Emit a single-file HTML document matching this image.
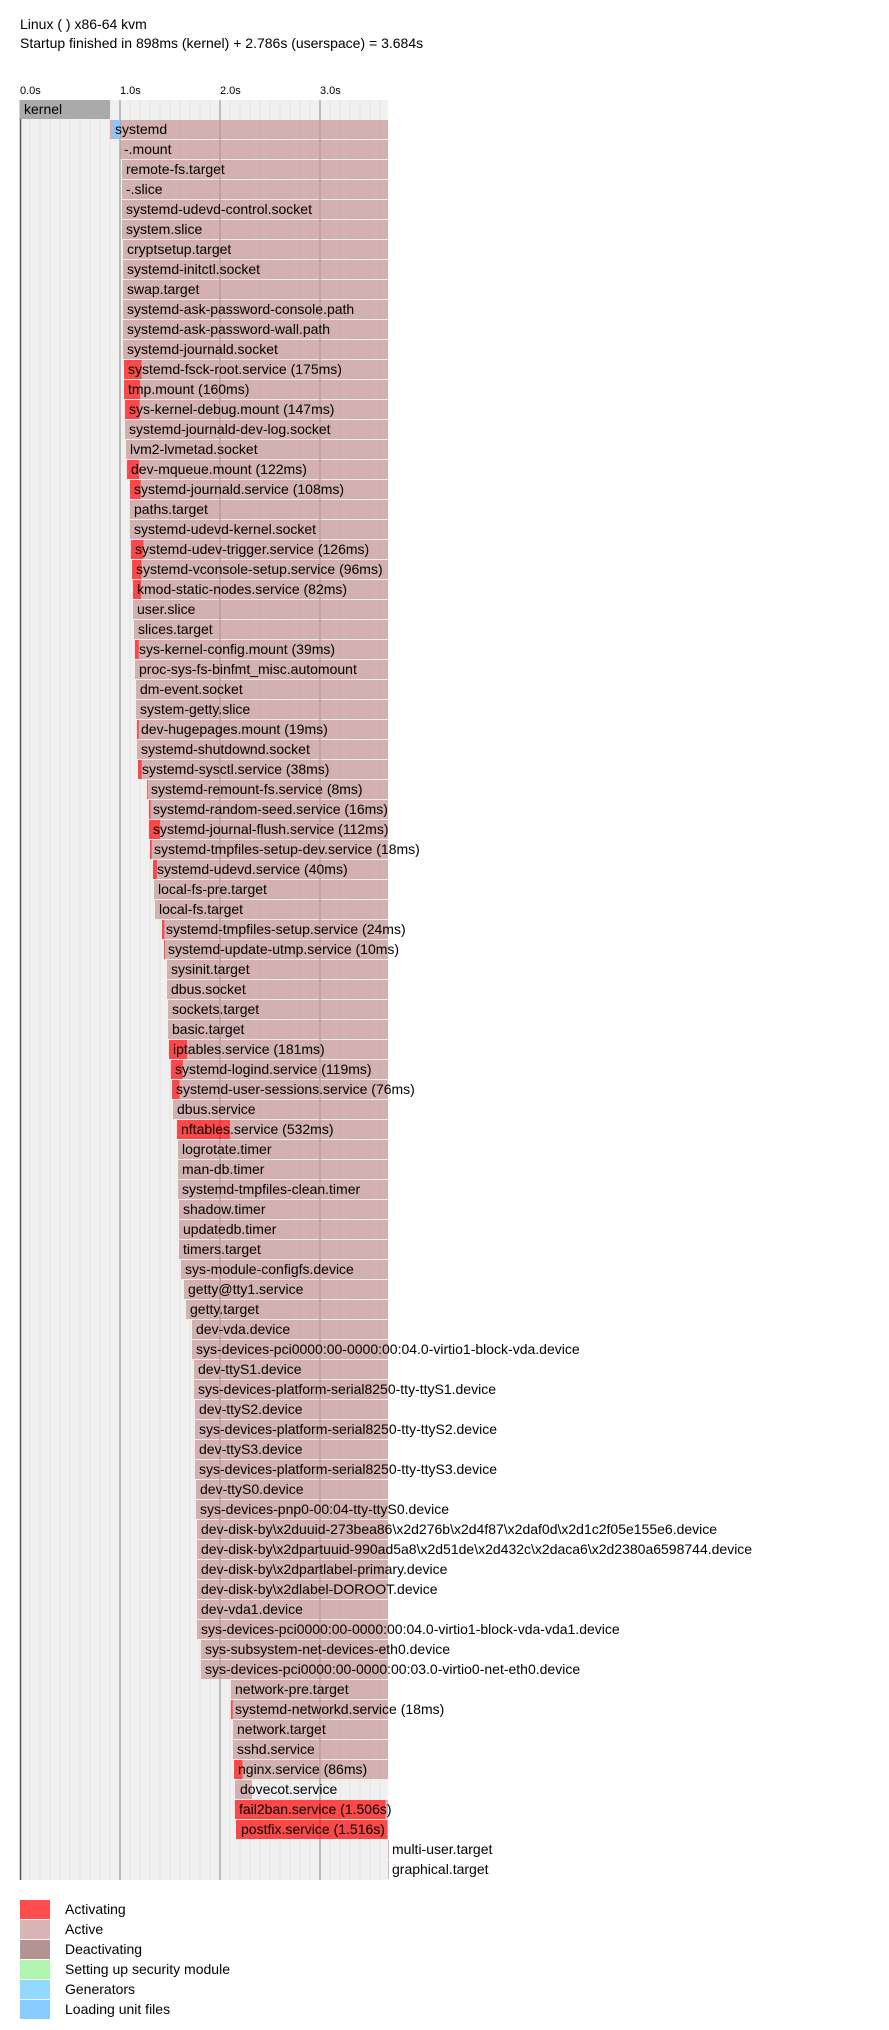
<!DOCTYPE html>
<html><head><meta charset="utf-8"><style>
html,body{margin:0;padding:0;background:#fff;}
svg{display:block;}
text{font-family:"Liberation Sans","DejaVu Sans",sans-serif;font-size:14px;fill:#000;}
.t{font-size:11px;}
.a{fill:rgb(200,150,150);fill-opacity:.7;}
.r{fill:rgb(255,0,0);fill-opacity:.7;}
.mi{stroke:#e3e3e3;stroke-width:1;}
.ma{stroke:#999;stroke-width:1.2;}
</style></head><body>
<svg width="889" height="2030" viewBox="0 0 889 2030" xmlns="http://www.w3.org/2000/svg">
<text x="20" y="29">Linux ( ) x86-64 kvm</text>
<text x="20" y="48">Startup finished in 898ms (kernel) + 2.786s (userspace) = 3.684s</text>
<text class="t" x="20" y="94">0.0s</text>
<text class="t" x="120" y="94">1.0s</text>
<text class="t" x="220" y="94">2.0s</text>
<text class="t" x="320" y="94">3.0s</text>
<rect x="20" y="100" width="368" height="1780" fill="#f0f0f0"/>
<g class="mi">
<line x1="30" y1="100" x2="30" y2="1880"/><line x1="40" y1="100" x2="40" y2="1880"/><line x1="50" y1="100" x2="50" y2="1880"/><line x1="60" y1="100" x2="60" y2="1880"/><line x1="70" y1="100" x2="70" y2="1880"/><line x1="80" y1="100" x2="80" y2="1880"/><line x1="90" y1="100" x2="90" y2="1880"/><line x1="100" y1="100" x2="100" y2="1880"/><line x1="110" y1="100" x2="110" y2="1880"/>
<line x1="130" y1="100" x2="130" y2="1880"/><line x1="140" y1="100" x2="140" y2="1880"/><line x1="150" y1="100" x2="150" y2="1880"/><line x1="160" y1="100" x2="160" y2="1880"/><line x1="170" y1="100" x2="170" y2="1880"/><line x1="180" y1="100" x2="180" y2="1880"/><line x1="190" y1="100" x2="190" y2="1880"/><line x1="200" y1="100" x2="200" y2="1880"/><line x1="210" y1="100" x2="210" y2="1880"/>
<line x1="230" y1="100" x2="230" y2="1880"/><line x1="240" y1="100" x2="240" y2="1880"/><line x1="250" y1="100" x2="250" y2="1880"/><line x1="260" y1="100" x2="260" y2="1880"/><line x1="270" y1="100" x2="270" y2="1880"/><line x1="280" y1="100" x2="280" y2="1880"/><line x1="290" y1="100" x2="290" y2="1880"/><line x1="300" y1="100" x2="300" y2="1880"/><line x1="310" y1="100" x2="310" y2="1880"/>
<line x1="330" y1="100" x2="330" y2="1880"/><line x1="340" y1="100" x2="340" y2="1880"/><line x1="350" y1="100" x2="350" y2="1880"/><line x1="360" y1="100" x2="360" y2="1880"/><line x1="370" y1="100" x2="370" y2="1880"/><line x1="380" y1="100" x2="380" y2="1880"/>
</g>
<g class="ma">
<line x1="120" y1="100" x2="120" y2="1880"/><line x1="220" y1="100" x2="220" y2="1880"/><line x1="320" y1="100" x2="320" y2="1880"/>
</g>
<line x1="20.5" y1="100" x2="20.5" y2="1880" stroke="#555" stroke-width="1.5"/>
<rect x="20" y="100" width="90" height="19" fill="#aaaaaa"/><text x="24" y="114">kernel</text>

<rect class="a" x="110" y="120" width="278" height="19"/><rect x="113" y="120" width="7" height="19" fill="#88c8ff"/><text x="115" y="134">systemd</text>
<rect class="a" x="120" y="140" width="268" height="19"/><text x="124" y="154">-.mount</text>
<rect class="a" x="122" y="160" width="266" height="19"/><text x="126" y="174">remote-fs.target</text>
<rect class="a" x="122" y="180" width="266" height="19"/><text x="126" y="194">-.slice</text>
<rect class="a" x="122" y="200" width="266" height="19"/><text x="126" y="214">systemd-udevd-control.socket</text>
<rect class="a" x="122" y="220" width="266" height="19"/><text x="126" y="234">system.slice</text>
<rect class="a" x="123" y="240" width="265" height="19"/><text x="127" y="254">cryptsetup.target</text>
<rect class="a" x="123" y="260" width="265" height="19"/><text x="127" y="274">systemd-initctl.socket</text>
<rect class="a" x="123" y="280" width="265" height="19"/><text x="127" y="294">swap.target</text>
<rect class="a" x="123" y="300" width="265" height="19"/><text x="127" y="314">systemd-ask-password-console.path</text>
<rect class="a" x="123" y="320" width="265" height="19"/><text x="127" y="334">systemd-ask-password-wall.path</text>
<rect class="a" x="123" y="340" width="265" height="19"/><text x="127" y="354">systemd-journald.socket</text>
<rect class="r" x="124" y="360" width="17.5" height="19"/><rect class="a" x="141.5" y="360" width="246.5" height="19"/><text x="128" y="374">systemd-fsck-root.service (175ms)</text>
<rect class="r" x="124" y="380" width="16" height="19"/><rect class="a" x="140" y="380" width="248" height="19"/><text x="128" y="394">tmp.mount (160ms)</text>
<rect class="r" x="125" y="400" width="14.7" height="19"/><rect class="a" x="139.7" y="400" width="248.3" height="19"/><text x="129" y="414">sys-kernel-debug.mount (147ms)</text>
<rect class="a" x="125" y="420" width="263" height="19"/><text x="129" y="434">systemd-journald-dev-log.socket</text>
<rect class="a" x="126" y="440" width="262" height="19"/><text x="130" y="454">lvm2-lvmetad.socket</text>
<rect class="r" x="127" y="460" width="12.2" height="19"/><rect class="a" x="139.2" y="460" width="248.8" height="19"/><text x="131" y="474">dev-mqueue.mount (122ms)</text>
<rect class="r" x="130" y="480" width="10.8" height="19"/><rect class="a" x="140.8" y="480" width="247.2" height="19"/><text x="134" y="494">systemd-journald.service (108ms)</text>
<rect class="a" x="130" y="500" width="258" height="19"/><text x="134" y="514">paths.target</text>
<rect class="a" x="130" y="520" width="258" height="19"/><text x="134" y="534">systemd-udevd-kernel.socket</text>
<rect class="r" x="131" y="540" width="12.6" height="19"/><rect class="a" x="143.6" y="540" width="244.4" height="19"/><text x="135" y="554">systemd-udev-trigger.service (126ms)</text>
<rect class="r" x="132" y="560" width="9.6" height="19"/><rect class="a" x="141.6" y="560" width="246.4" height="19"/><text x="136" y="574">systemd-vconsole-setup.service (96ms)</text>
<rect class="r" x="133" y="580" width="8.2" height="19"/><rect class="a" x="141.2" y="580" width="246.8" height="19"/><text x="137" y="594">kmod-static-nodes.service (82ms)</text>
<rect class="a" x="133" y="600" width="255" height="19"/><text x="137" y="614">user.slice</text>
<rect class="a" x="134" y="620" width="254" height="19"/><text x="138" y="634">slices.target</text>
<rect class="r" x="135" y="640" width="3.9" height="19"/><rect class="a" x="138.9" y="640" width="249.1" height="19"/><text x="139" y="654">sys-kernel-config.mount (39ms)</text>
<rect class="a" x="135" y="660" width="253" height="19"/><text x="139" y="674">proc-sys-fs-binfmt_misc.automount</text>
<rect class="a" x="136" y="680" width="252" height="19"/><text x="140" y="694">dm-event.socket</text>
<rect class="a" x="136" y="700" width="252" height="19"/><text x="140" y="714">system-getty.slice</text>
<rect class="r" x="137" y="720" width="1.9" height="19"/><rect class="a" x="138.9" y="720" width="249.1" height="19"/><text x="141" y="734">dev-hugepages.mount (19ms)</text>
<rect class="a" x="137" y="740" width="251" height="19"/><text x="141" y="754">systemd-shutdownd.socket</text>
<rect class="r" x="138" y="760" width="3.8" height="19"/><rect class="a" x="141.8" y="760" width="246.2" height="19"/><text x="142" y="774">systemd-sysctl.service (38ms)</text>
<rect class="r" x="147" y="780" width="0.8" height="19"/><rect class="a" x="147.8" y="780" width="240.2" height="19"/><text x="151" y="794">systemd-remount-fs.service (8ms)</text>
<rect class="r" x="149" y="800" width="1.6" height="19"/><rect class="a" x="150.6" y="800" width="237.4" height="19"/><text x="153" y="814">systemd-random-seed.service (16ms)</text>
<rect class="r" x="149" y="820" width="11.2" height="19"/><rect class="a" x="160.2" y="820" width="227.8" height="19"/><text x="153" y="834">systemd-journal-flush.service (112ms)</text>
<rect class="r" x="150" y="840" width="1.8" height="19"/><rect class="a" x="151.8" y="840" width="236.2" height="19"/><text x="154" y="854">systemd-tmpfiles-setup-dev.service (18ms)</text>
<rect class="r" x="153" y="860" width="4" height="19"/><rect class="a" x="157" y="860" width="231" height="19"/><text x="157" y="874">systemd-udevd.service (40ms)</text>
<rect class="a" x="154" y="880" width="234" height="19"/><text x="158" y="894">local-fs-pre.target</text>
<rect class="a" x="155" y="900" width="233" height="19"/><text x="159" y="914">local-fs.target</text>
<rect class="r" x="162" y="920" width="2.4" height="19"/><rect class="a" x="164.4" y="920" width="223.6" height="19"/><text x="166" y="934">systemd-tmpfiles-setup.service (24ms)</text>
<rect class="r" x="164" y="940" width="1" height="19"/><rect class="a" x="165" y="940" width="223" height="19"/><text x="168" y="954">systemd-update-utmp.service (10ms)</text>
<rect class="a" x="167" y="960" width="221" height="19"/><text x="171" y="974">sysinit.target</text>
<rect class="a" x="167" y="980" width="221" height="19"/><text x="171" y="994">dbus.socket</text>
<rect class="a" x="168" y="1000" width="220" height="19"/><text x="172" y="1014">sockets.target</text>
<rect class="a" x="168" y="1020" width="220" height="19"/><text x="172" y="1034">basic.target</text>
<rect class="r" x="169" y="1040" width="18.1" height="19"/><rect class="a" x="187.1" y="1040" width="200.9" height="19"/><text x="173" y="1054">iptables.service (181ms)</text>
<rect class="r" x="171" y="1060" width="11.9" height="19"/><rect class="a" x="182.9" y="1060" width="205.1" height="19"/><text x="175" y="1074">systemd-logind.service (119ms)</text>
<rect class="r" x="172" y="1080" width="7.6" height="19"/><rect class="a" x="179.6" y="1080" width="208.4" height="19"/><text x="176" y="1094">systemd-user-sessions.service (76ms)</text>
<rect class="a" x="173" y="1100" width="215" height="19"/><text x="177" y="1114">dbus.service</text>
<rect class="r" x="177" y="1120" width="53.2" height="19"/><rect class="a" x="230.2" y="1120" width="157.8" height="19"/><text x="181" y="1134">nftables.service (532ms)</text>
<rect class="a" x="178" y="1140" width="210" height="19"/><text x="182" y="1154">logrotate.timer</text>
<rect class="a" x="178" y="1160" width="210" height="19"/><text x="182" y="1174">man-db.timer</text>
<rect class="a" x="178" y="1180" width="210" height="19"/><text x="182" y="1194">systemd-tmpfiles-clean.timer</text>
<rect class="a" x="179" y="1200" width="209" height="19"/><text x="183" y="1214">shadow.timer</text>
<rect class="a" x="179" y="1220" width="209" height="19"/><text x="183" y="1234">updatedb.timer</text>
<rect class="a" x="179" y="1240" width="209" height="19"/><text x="183" y="1254">timers.target</text>
<rect class="a" x="181" y="1260" width="207" height="19"/><text x="185" y="1274">sys-module-configfs.device</text>
<rect class="a" x="184" y="1280" width="204" height="19"/><text x="188" y="1294">getty@tty1.service</text>
<rect class="a" x="186" y="1300" width="202" height="19"/><text x="190" y="1314">getty.target</text>
<rect class="a" x="192" y="1320" width="196" height="19"/><text x="196" y="1334">dev-vda.device</text>
<rect class="a" x="192" y="1340" width="196" height="19"/><text x="196" y="1354">sys-devices-pci0000:00-0000:00:04.0-virtio1-block-vda.device</text>
<rect class="a" x="194" y="1360" width="194" height="19"/><text x="198" y="1374">dev-ttyS1.device</text>
<rect class="a" x="194" y="1380" width="194" height="19"/><text x="198" y="1394">sys-devices-platform-serial8250-tty-ttyS1.device</text>
<rect class="a" x="195" y="1400" width="193" height="19"/><text x="199" y="1414">dev-ttyS2.device</text>
<rect class="a" x="195" y="1420" width="193" height="19"/><text x="199" y="1434">sys-devices-platform-serial8250-tty-ttyS2.device</text>
<rect class="a" x="195" y="1440" width="193" height="19"/><text x="199" y="1454">dev-ttyS3.device</text>
<rect class="a" x="195" y="1460" width="193" height="19"/><text x="199" y="1474">sys-devices-platform-serial8250-tty-ttyS3.device</text>
<rect class="a" x="196" y="1480" width="192" height="19"/><text x="200" y="1494">dev-ttyS0.device</text>
<rect class="a" x="196" y="1500" width="192" height="19"/><text x="200" y="1514">sys-devices-pnp0-00:04-tty-ttyS0.device</text>
<rect class="a" x="197" y="1520" width="191" height="19"/><text x="201" y="1534">dev-disk-by\x2duuid-273bea86\x2d276b\x2d4f87\x2daf0d\x2d1c2f05e155e6.device</text>
<rect class="a" x="197" y="1540" width="191" height="19"/><text x="201" y="1554">dev-disk-by\x2dpartuuid-990ad5a8\x2d51de\x2d432c\x2daca6\x2d2380a6598744.device</text>
<rect class="a" x="197" y="1560" width="191" height="19"/><text x="201" y="1574">dev-disk-by\x2dpartlabel-primary.device</text>
<rect class="a" x="197" y="1580" width="191" height="19"/><text x="201" y="1594">dev-disk-by\x2dlabel-DOROOT.device</text>
<rect class="a" x="197" y="1600" width="191" height="19"/><text x="201" y="1614">dev-vda1.device</text>
<rect class="a" x="197" y="1620" width="191" height="19"/><text x="201" y="1634">sys-devices-pci0000:00-0000:00:04.0-virtio1-block-vda-vda1.device</text>
<rect class="a" x="201" y="1640" width="187" height="19"/><text x="205" y="1654">sys-subsystem-net-devices-eth0.device</text>
<rect class="a" x="201" y="1660" width="187" height="19"/><text x="205" y="1674">sys-devices-pci0000:00-0000:00:03.0-virtio0-net-eth0.device</text>
<rect class="a" x="231" y="1680" width="157" height="19"/><text x="235" y="1694">network-pre.target</text>
<rect class="r" x="231" y="1700" width="1.8" height="19"/><rect class="a" x="232.8" y="1700" width="155.2" height="19"/><text x="235" y="1714">systemd-networkd.service (18ms)</text>
<rect class="a" x="233" y="1720" width="155" height="19"/><text x="237" y="1734">network.target</text>
<rect class="a" x="233" y="1740" width="155" height="19"/><text x="237" y="1754">sshd.service</text>
<rect class="r" x="234" y="1760" width="8.6" height="19"/><rect class="a" x="242.6" y="1760" width="145.4" height="19"/><text x="238" y="1774">nginx.service (86ms)</text>
<rect class="a" x="235" y="1780" width="17" height="19"/><text x="240" y="1794">dovecot.service</text>
<rect class="r" x="235" y="1800" width="150.6" height="19"/><rect class="a" x="385.6" y="1800" width="2.4" height="19"/><text x="239" y="1814">fail2ban.service (1.506s)</text>
<rect class="r" x="236" y="1820" width="151.6" height="19"/><text x="241" y="1834">postfix.service (1.516s)</text>
<rect class="a" x="388" y="1840" width="1" height="19"/><text x="392" y="1854">multi-user.target</text>
<rect class="a" x="388" y="1860" width="1" height="19"/><text x="392" y="1874">graphical.target</text>

<rect x="20" y="1900" width="30" height="19" fill="#ff4d4d"/><text x="65" y="1914">Activating</text>
<rect x="20" y="1920" width="30" height="19" fill="#d9b6b6"/><text x="65" y="1934">Active</text>
<rect x="20" y="1940" width="30" height="19" fill="#b39393"/><text x="65" y="1954">Deactivating</text>
<rect x="20" y="1960" width="30" height="19" fill="#b1f5b1"/><text x="65" y="1974">Setting up security module</text>
<rect x="20" y="1980" width="30" height="19" fill="#90d9ff"/><text x="65" y="1994">Generators</text>
<rect x="20" y="2000" width="30" height="19" fill="#88ccff"/><text x="65" y="2014">Loading unit files</text>
</svg>
</body></html>
